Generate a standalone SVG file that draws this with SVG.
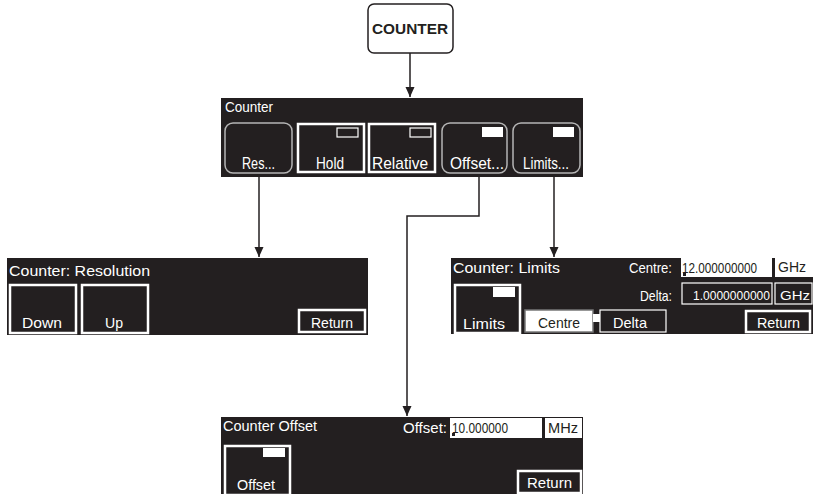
<svg xmlns="http://www.w3.org/2000/svg" width="814" height="494" viewBox="0 0 814 494">
<defs>
<marker id="arr" markerWidth="10" markerHeight="10" refX="10" refY="4.5" orient="auto" markerUnits="userSpaceOnUse">
<path d="M0,0 L10,4.5 L0,9 Z" fill="#231f20"/>
</marker>
<style>
.panel{fill:#231f20}
.t{font-family:"Liberation Sans",Arial,sans-serif;fill:#fff}
.title{font-size:15px}
.lbl{font-size:15px}
.big{font-size:17px}
.rb{fill:none;stroke:#b5b5b5;stroke-width:1.5}
.sb{fill:none;stroke:#fff;stroke-width:2.5}
.thin{fill:none;stroke:#fff;stroke-width:1.2}
.wf{fill:#fff}
.val{font-family:"Liberation Sans",Arial,sans-serif;font-size:15px;fill:#231f20}
.conn{fill:none;stroke:#231f20;stroke-width:1.5}
</style>
</defs>
<rect width="814" height="494" fill="#fff"/>

<g id="connectors">
<path class="conn" d="M410,53 L410,97" marker-end="url(#arr)"/>
<path class="conn" d="M259,177 L259,257" marker-end="url(#arr)"/>
<path class="conn" d="M479,177 L479,216 L407,216 L407,416" marker-end="url(#arr)"/>
<path class="conn" d="M554,177 L554,257" marker-end="url(#arr)"/>
</g>

<g id="counter-key">
<rect x="368" y="4" width="85" height="49" rx="6" fill="#fff" stroke="#231f20" stroke-width="1.5"/>
<text x="372" y="34" font-family="Liberation Sans,Arial,sans-serif" font-size="15" font-weight="bold" fill="#231f20" textLength="76" lengthAdjust="spacingAndGlyphs">COUNTER</text>
</g>

<g id="counter-menu">
<rect class="panel" x="221" y="98" width="362" height="79"/>
<text class="t" x="225" y="112" font-size="14" textLength="48" lengthAdjust="spacingAndGlyphs">Counter</text>
<rect class="rb" x="225" y="123" width="67" height="50" rx="8"/>
<text class="t big" x="242" y="169" textLength="33" lengthAdjust="spacingAndGlyphs">Res...</text>
<rect class="sb" x="298" y="124" width="66" height="48"/>
<rect class="thin" x="337" y="128" width="21" height="9"/>
<text class="t big" x="316" y="169" textLength="28" lengthAdjust="spacingAndGlyphs">Hold</text>
<rect class="sb" x="369" y="124" width="66" height="48"/>
<rect class="thin" x="410" y="128" width="21" height="9"/>
<text class="t big" x="372" y="169" textLength="56" lengthAdjust="spacingAndGlyphs">Relative</text>
<rect class="rb" x="442" y="123" width="65" height="50" rx="8"/>
<rect class="wf" x="482" y="127" width="21" height="10"/>
<text class="t big" x="450" y="169" textLength="54" lengthAdjust="spacingAndGlyphs">Offset...</text>
<rect class="rb" x="513" y="123" width="67" height="50" rx="8"/>
<rect class="wf" x="553" y="127" width="21" height="10"/>
<text class="t big" x="523" y="169" textLength="46" lengthAdjust="spacingAndGlyphs">Limits...</text>
</g>

<g id="resolution-menu">
<rect class="panel" x="7" y="258" width="361" height="77"/>
<text class="t title" x="9" y="276" textLength="141" lengthAdjust="spacingAndGlyphs">Counter: Resolution</text>
<rect class="sb" x="10" y="285" width="66" height="48"/>
<text class="t lbl" x="22" y="328" textLength="40" lengthAdjust="spacingAndGlyphs">Down</text>
<rect class="sb" x="82" y="285" width="66" height="48"/>
<text class="t lbl" x="105" y="328" textLength="18" lengthAdjust="spacingAndGlyphs">Up</text>
<rect class="sb" x="299" y="310" width="66" height="22"/>
<text class="t lbl" x="311" y="328" textLength="42" lengthAdjust="spacingAndGlyphs">Return</text>
</g>

<g id="limits-menu">
<rect class="panel" x="451" y="258" width="362" height="76"/>
<text class="t title" x="453" y="273" textLength="107" lengthAdjust="spacingAndGlyphs">Counter: Limits</text>
<text class="t lbl" x="629" y="273" textLength="43" lengthAdjust="spacingAndGlyphs">Centre:</text>
<rect class="wf" x="681" y="258" width="91" height="19"/>
<text class="val" x="682" y="273" font-size="14" textLength="75" lengthAdjust="spacingAndGlyphs">12.000000000</text>
<rect x="683" y="273" width="3" height="3" fill="#231f20"/>
<rect class="wf" x="775" y="258" width="38" height="19"/>
<text class="val" x="778" y="272" font-size="13" textLength="28" lengthAdjust="spacingAndGlyphs">GHz</text>
<text class="t lbl" x="640" y="301" textLength="32" lengthAdjust="spacingAndGlyphs">Delta:</text>
<rect class="thin" x="682" y="283" width="90" height="21"/>
<text class="t" x="693" y="300" font-size="13" textLength="77" lengthAdjust="spacingAndGlyphs">1.0000000000</text>
<rect class="thin" x="775" y="283" width="37" height="21"/>
<text class="t" x="780" y="300" font-size="13" textLength="30" lengthAdjust="spacingAndGlyphs">GHz</text>
<rect class="sb" x="455" y="285" width="65" height="48"/>
<rect class="wf" x="493" y="287" width="22" height="10"/>
<text class="t lbl" x="463" y="329" textLength="42" lengthAdjust="spacingAndGlyphs">Limits</text>
<rect x="525" y="310" width="68" height="22" fill="#fff" stroke="#777" stroke-width="1.5"/>
<text class="val" x="538" y="328" textLength="42" lengthAdjust="spacingAndGlyphs">Centre</text>
<rect class="wf" x="593" y="314" width="7" height="8"/>
<rect class="thin" x="600" y="310" width="66" height="22"/>
<text class="t lbl" x="613" y="328" textLength="34" lengthAdjust="spacingAndGlyphs">Delta</text>
<rect class="sb" x="746" y="311" width="64" height="21"/>
<text class="t lbl" x="757" y="328" textLength="43" lengthAdjust="spacingAndGlyphs">Return</text>
</g>

<g id="offset-menu">
<rect class="panel" x="221" y="417" width="362" height="77"/>
<text class="t" x="223" y="431" font-size="14" textLength="94" lengthAdjust="spacingAndGlyphs">Counter Offset</text>
<text class="t lbl" x="403" y="433" textLength="44" lengthAdjust="spacingAndGlyphs">Offset:</text>
<rect class="wf" x="450" y="418" width="92" height="20"/>
<text class="val" x="452" y="433" textLength="56" lengthAdjust="spacingAndGlyphs">10.000000</text>
<rect x="452" y="433" width="3" height="3" fill="#231f20"/>
<rect class="wf" x="545" y="418" width="37" height="20"/>
<text class="val" x="548" y="433" textLength="30" lengthAdjust="spacingAndGlyphs">MHz</text>
<rect class="sb" x="225" y="446" width="65" height="49"/>
<rect class="wf" x="263" y="448" width="22" height="9"/>
<text class="t lbl" x="237" y="490" textLength="38" lengthAdjust="spacingAndGlyphs">Offset</text>
<rect class="sb" x="518" y="471" width="63" height="22"/>
<text class="t lbl" x="527" y="488" textLength="45" lengthAdjust="spacingAndGlyphs">Return</text>
</g>
</svg>
